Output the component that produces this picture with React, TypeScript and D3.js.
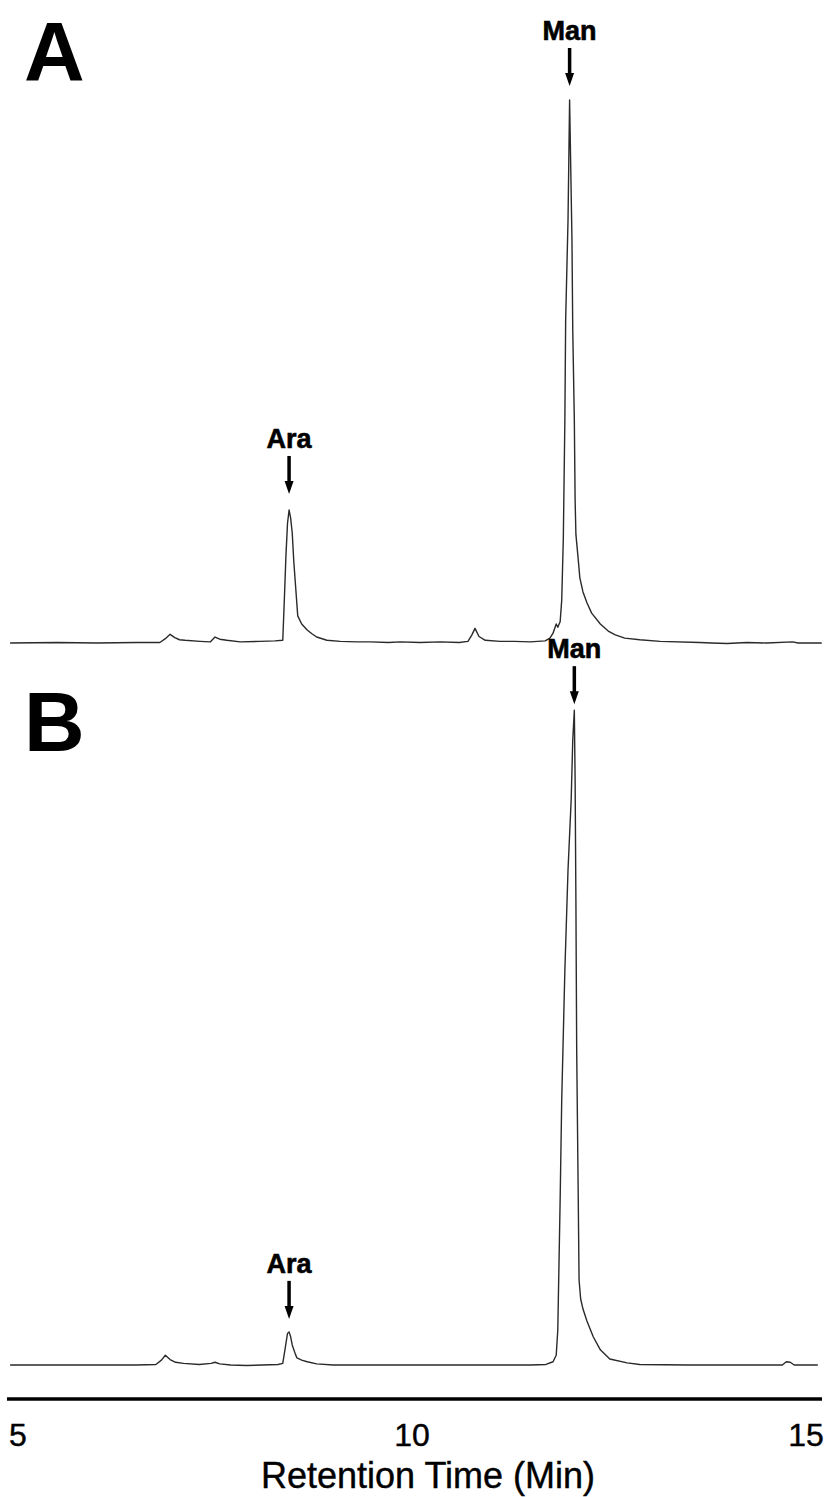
import React from "react";
import * as d3 from "d3";

// Chromatogram A: [retention time (min), detector signal (a.u.)]
const traceA: [number, number][] = [
  [4.9, 0.0], [5.5, 0.1], [6.0, 0.0], [6.5, 0.1], [6.8, 0.1], [6.87, 0.8], [6.93, 1.6], [6.99, 1.0],
  [7.05, 0.6], [7.12, 0.5], [7.31, 0.3], [7.44, 0.2], [7.5, 1.1], [7.56, 0.7], [7.65, 0.5], [7.82, 0.2],
  [8.07, 0.3], [8.26, 0.4], [8.36, 0.5], [8.38, 8.0], [8.4, 16.0], [8.42, 22.0], [8.44, 24.5], [8.46, 23.0],
  [8.48, 20.3], [8.5, 15.0], [8.52, 11.0], [8.55, 5.0], [8.6, 3.5], [8.67, 2.4], [8.73, 1.7], [8.79, 1.1],
  [8.92, 0.5], [9.09, 0.3], [9.3, 0.2], [9.47, 0.2], [9.7, 0.1], [9.85, 0.2], [10.1, 0.1], [10.36, 0.2],
  [10.6, 0.1], [10.71, 0.3], [10.76, 1.5], [10.8, 2.7], [10.85, 1.2], [10.93, 0.5], [11.12, 0.3], [11.3, 0.3],
  [11.5, 0.2], [11.69, 0.4], [11.75, 0.9], [11.79, 1.8], [11.83, 3.5], [11.85, 2.9], [11.88, 3.9], [11.9, 7.9],
  [11.92, 19.0], [11.94, 41.1], [11.95, 59.5], [11.98, 77.9], [11.99, 88.9], [12.0, 100.0], [12.03, 74.2],
  [12.04, 57.6], [12.06, 41.1], [12.07, 26.3], [12.08, 20.0], [12.11, 15.3], [12.13, 12.0], [12.17, 9.4],
  [12.22, 7.4], [12.28, 5.5], [12.39, 3.5], [12.49, 2.2], [12.58, 1.5], [12.7, 0.9], [12.89, 0.6], [13.15, 0.3],
  [13.65, 0.1], [13.8, 0.0], [14.0, -0.1], [14.25, 0.1], [14.5, 0.0], [14.83, 0.2], [14.9, 0.0], [15.2, 0.0],
];

// Chromatogram B
const traceB: [number, number][] = [
  [4.9, 0.0], [5.5, 0.0], [6.0, 0.0], [6.5, 0.0], [6.75, 0.1], [6.82, 0.9], [6.87, 1.8], [6.93, 1.0],
  [7.0, 0.5], [7.1, 0.3], [7.3, 0.1], [7.45, 0.3], [7.5, 0.5], [7.56, 0.2], [7.7, 0.0], [7.9, -0.1],
  [8.1, 0.0], [8.3, 0.1], [8.36, 0.3], [8.39, 3.0], [8.42, 5.8], [8.44, 6.1], [8.46, 5.2], [8.48, 3.7],
  [8.52, 2.0], [8.54, 1.3], [8.6, 0.9], [8.67, 0.6], [8.79, 0.2], [9.0, 0.0], [9.5, 0.0], [10.0, 0.0],
  [10.5, 0.0], [11.0, 0.0], [11.5, 0.0], [11.7, 0.1], [11.79, 0.6], [11.83, 1.8], [11.85, 6.4], [11.88, 30.4],
  [11.9, 48.8], [11.94, 72.7], [11.98, 91.2], [12.02, 104.1], [12.04, 115.1], [12.06, 120.6], [12.07, 107.7],
  [12.08, 85.6], [12.09, 58.0], [12.11, 30.4], [12.12, 15.7], [12.14, 12.2], [12.17, 10.3], [12.22, 8.1],
  [12.3, 5.2], [12.39, 2.8], [12.51, 1.1], [12.73, 0.4], [12.89, 0.1], [13.5, 0.0], [14.0, 0.0], [14.5, 0.0],
  [14.7, 0.0], [14.75, 0.6], [14.8, 0.5], [14.85, 0.0], [15.15, 0.0],
];

const peakNames = ["Ara", "Man"];
const peaksA: [number, number][] = [[8.44, 24.5], [12.0, 100.0]];
const peaksB: [number, number][] = [[8.44, 6.1], [12.06, 120.6]];
const panelLabels = ["A", "B"];
const xTicks = [5, 10, 15];
const xTitle = "Retention Time (Min)";

const W = 824;
const H = 1497;

export default function App() {
  const x = d3.scaleLinear().domain([5, 15]).range([18, 806]);
  const yA = d3.scaleLinear().domain([0, 100]).range([643, 100]);
  const yB = d3.scaleLinear().domain([0, 100]).range([1365, 822]);

  const lineA = d3.line<[number, number]>().x((d) => x(d[0])).y((d) => yA(d[1]));
  const lineB = d3.line<[number, number]>().x((d) => x(d[0])).y((d) => yB(d[1]));

  const font = "Liberation Sans, Arial, Helvetica, sans-serif";

  const arrow = (px: number, py: number, name: string, key: string, gap: number) => {
    const tip = py - gap;
    const tail = tip - 38;
    return (
      <g key={key}>
        <line x1={px} x2={px} y1={tail} y2={tip - 10} stroke="#000" strokeWidth={3.5} />
        <path d={`M${px - 4.5},${tip - 13} L${px + 4.5},${tip - 13} L${px},${tip} Z`} fill="#000" />
        <text
          x={px}
          y={tail - 8}
          textAnchor="middle"
          fontFamily={font}
          fontWeight="bold"
          fontSize={27}
          fill="#000"
          stroke="#000"
          strokeWidth={0.6}
        >
          {name}
        </text>
      </g>
    );
  };

  return (
    <svg
      width={W}
      height={H}
      viewBox={`0 0 ${W} ${H}`}
      style={{ position: "absolute", left: 0, top: 0, background: "#fff" }}
    >
      <rect x={0} y={0} width={W} height={H} fill="#fff" />
      <text x={24} y={81} fontFamily={font} fontWeight="bold" fontSize={84} fill="#000">
        {panelLabels[0]}
      </text>
      <text x={24} y={751} fontFamily={font} fontWeight="bold" fontSize={84} fill="#000">
        {panelLabels[1]}
      </text>

      <path d={lineA(traceA) || ""} fill="none" stroke="#2a2a2a" strokeWidth={1.4} strokeLinejoin="round" />
      <path d={lineB(traceB) || ""} fill="none" stroke="#2a2a2a" strokeWidth={1.4} strokeLinejoin="round" />

      {peaksA.map((p, i) => arrow(x(p[0]), yA(p[1]), peakNames[i], `a${i}`, i === 0 ? 16 : 14))}
      {peaksB.map((p, i) => arrow(x(p[0]), yB(p[1]), peakNames[i], `b${i}`, i === 0 ? 13 : 6))}

      <line x1={7} x2={822} y1={1399} y2={1399} stroke="#000" strokeWidth={3.5} />
      {xTicks.map((t) => (
        <text
          key={t}
          x={x(t)}
          y={1446}
          textAnchor="middle"
          fontFamily={font}
          fontSize={32}
          fill="#000"
          stroke="#000"
          strokeWidth={0.4}
        >
          {t}
        </text>
      ))}
      <text
        x={428}
        y={1488}
        textAnchor="middle"
        fontFamily={font}
        fontSize={36}
        fill="#000"
        stroke="#000"
        strokeWidth={0.4}
      >
        {xTitle}
      </text>
    </svg>
  );
}
